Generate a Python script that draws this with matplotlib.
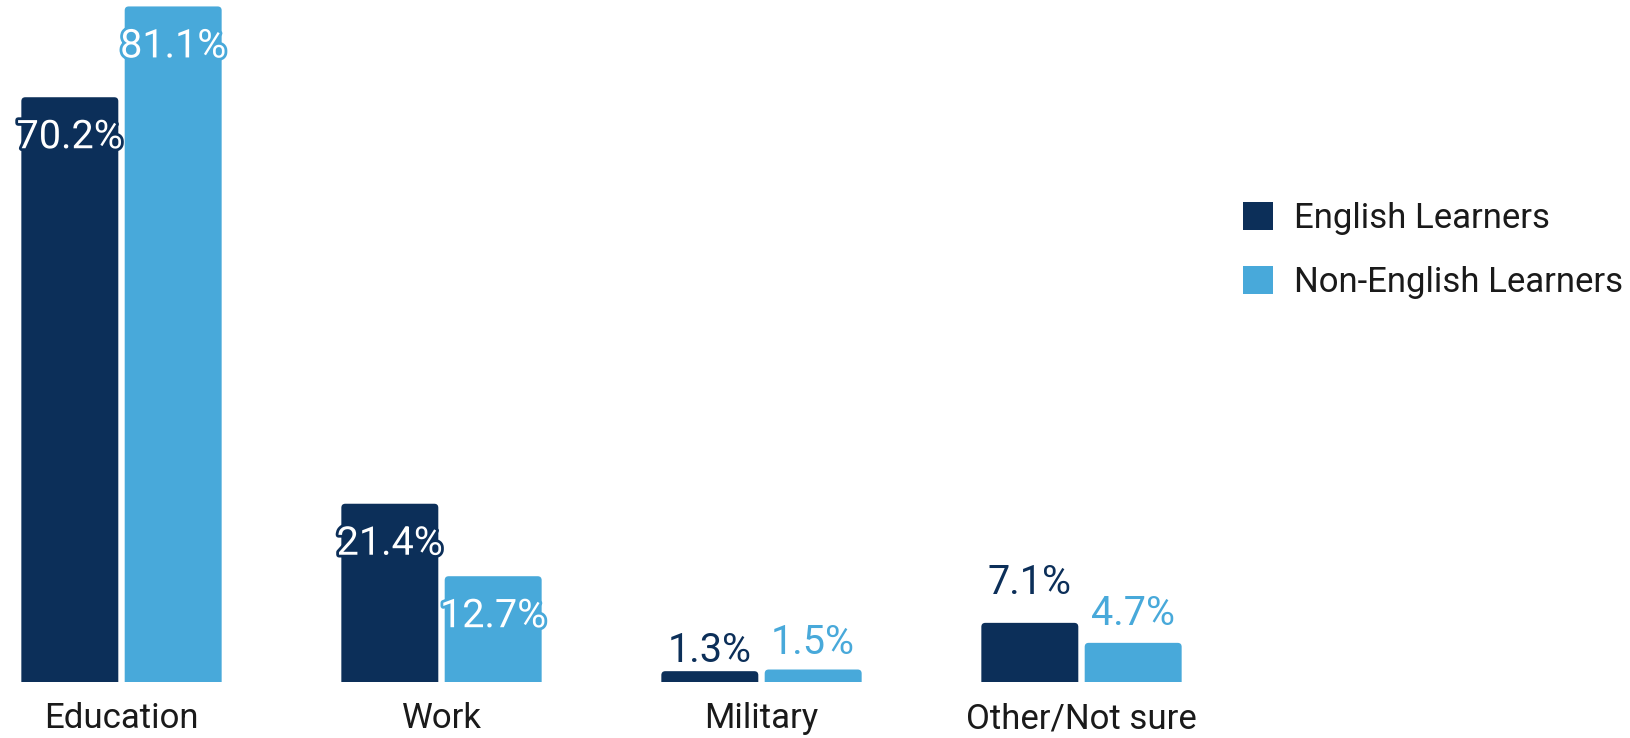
import matplotlib
matplotlib.use("Agg")
import matplotlib.pyplot as plt
from matplotlib.patches import FancyBboxPatch, Patch
import matplotlib.patheffects as pe

plt.rcParams['font.family'] = ['Roboto', 'DejaVu Sans']

categories = ["Education", "Work", "Military", "Other/Not sure"]
series_names = ["English Learners", "Non-English Learners"]
english_learners = [70.2, 21.4, 1.3, 7.1]
non_english_learners = [81.1, 12.7, 1.5, 4.7]

DARK = "#0c2f59"
LIGHT = "#48a9da"
TEXT = "#1a1a1a"

W, H = 1631, 738
fig = plt.figure(figsize=(W / 100, H / 100), dpi=100)
base_px = 682
ax = fig.add_axes([0, (H - base_px) / H, 1200 / W, base_px / H])
ax.set_xlim(-121.5 / 320, (1200 - 121.5) / 320)
ax.set_ylim(0, base_px / 8.33)

bw = 0.303
off = 0.1615
xs = range(len(categories))

# label style: inside (white w/ outline) or outside (coloured above); baseline offset in px
label_style = {
    0: [("in", -51), ("in", -51)],
    1: [("in", -51), ("in", -51)],
    2: [("out", 9), ("out", 16)],
    3: [("out", 29), ("out", 18)],
}

for si, (vals, col) in enumerate([(english_learners, DARK), (non_english_learners, LIGHT)]):
    pos = [x + (-off if si == 0 else off) for x in xs]
    bars = ax.bar(pos, vals, width=bw, color=col, label=series_names[si])
    for i, b in enumerate(bars):
        b.set_visible(False)
        rx = 0.0125
        ry = 0.48
        fb = FancyBboxPatch((b.get_x(), -1.0), b.get_width(), b.get_height() + 1.0,
                            boxstyle=f"round,pad=0,rounding_size={rx}",
                            mutation_aspect=ry / rx, facecolor=col, edgecolor='none',
                            clip_on=True)
        ax.add_patch(fb)
        kind, dy = label_style[i][si]
        cx = b.get_x() + b.get_width() / 2
        if kind == "in":
            t = ax.annotate(f"{vals[i]:.1f}%", (cx, b.get_height()), xytext=(0, dy),
                            textcoords='offset pixels', ha='center', va='baseline',
                            fontsize=28.5, color='white', annotation_clip=False)
            t.set_path_effects([pe.withStroke(linewidth=4, foreground=col)])
        else:
            ax.annotate(f"{vals[i]:.1f}%", (cx, b.get_height()), xytext=(0, dy),
                        textcoords='offset pixels', ha='center', va='baseline',
                        fontsize=28.5, color=col, annotation_clip=False)

ax.set_xticks(list(xs))
ax.set_xticklabels(categories, fontsize=25, color=TEXT)
ax.tick_params(axis='x', length=0, pad=14.5)
ax.set_yticks([])
for s in ax.spines.values():
    s.set_visible(False)

handles = [Patch(facecolor=DARK, edgecolor='none'), Patch(facecolor=LIGHT, edgecolor='none')]
leg = fig.legend(handles, series_names, loc='upper left',
                 bbox_to_anchor=(1243 / W, 1 - 202 / H), bbox_transform=fig.transFigure,
                 frameon=False, fontsize=25, handlelength=0.864, handleheight=0.864,
                 handletextpad=0.6, labelspacing=0.9, borderpad=0, borderaxespad=0,
                 labelcolor=TEXT)

fig.savefig("out.png", dpi=100)
